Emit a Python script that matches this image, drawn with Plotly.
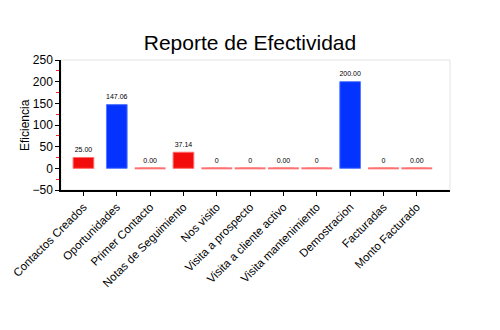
import plotly.graph_objects as go

categories = ["Contactos Creados", "Oportunidades", "Primer Contacto", "Notas de Seguimiento",
              "Nos visito", "Visita a prospecto", "Visita a cliente activo", "Visita mantenimiento",
              "Demostracion", "Facturadas", "Monto Facturado"]
values = [25.00, 147.06, 0.00, 37.14, 0, 0, 0.00, 0, 200.00, 0, 0.00]
value_labels = ["25.00", "147.06", "0.00", "37.14", "0", "0", "0.00", "0", "200.00", "0", "0.00"]
bar_colors = ["#f20c0c", "#0433ff", "#f20c0c", "#f20c0c", "#f20c0c", "#f20c0c",
              "#f20c0c", "#f20c0c", "#0433ff", "#f20c0c", "#f20c0c"]
line_colors = ["#ff6b6b", "#5577ff", "#ff6b6b", "#ff6b6b", "#ff6b6b", "#ff6b6b",
               "#ff6b6b", "#ff6b6b", "#5577ff", "#ff6b6b", "#ff6b6b"]

FONT = "Liberation Sans, Arial, sans-serif"

fig = go.Figure()
fig.add_trace(go.Bar(
    x=categories, y=values, width=0.62,
    marker=dict(color=bar_colors, line=dict(color=line_colors, width=1)),
    hoverinfo="skip",
))
zero_x = [c for c, v in zip(categories, values) if v == 0]
zero_y = [v for v in values if v == 0]
fig.add_trace(go.Scatter(
    x=zero_x, y=zero_y, mode="markers",
    marker=dict(symbol="line-ew", size=22, line=dict(color="#ff7070", width=2)),
    hoverinfo="skip",
))
fig.add_trace(go.Scatter(
    x=categories, y=values, mode="markers+text", text=value_labels,
    marker=dict(size=4, color="rgba(0,0,0,0)"),
    textposition="top center", textfont=dict(family=FONT, size=7, color="#000"),
    hoverinfo="skip",
))

fig.update_layout(
    width=500, height=330,
    margin=dict(l=61, r=50, t=60, b=140),
    paper_bgcolor="white", plot_bgcolor="white",
    showlegend=False,
    font=dict(family=FONT, color="#000"),
    title=dict(text="Reporte de Efectividad", x=0.5, xanchor="center",
               y=1 - 43 / 330, yanchor="middle",
               font=dict(family=FONT, size=21, color="#000")),
    shapes=[dict(type="rect", xref="paper", yref="paper", x0=0, x1=1, y0=0, y1=1,
                 line=dict(color="#e4e4e4", width=1), layer="below")],
    annotations=[dict(text="Eficiencia", textangle=-90, xref="paper", yref="paper",
                      x=(25 - 61) / 389, y=0.5, xanchor="center", yanchor="middle",
                      showarrow=False, font=dict(family=FONT, size=12, color="#000"))],
)
fig.update_xaxes(
    type="category", tickangle=-45, showline=True, linecolor="#000", linewidth=1.5,
    ticks="outside", ticklen=4, tickcolor="#000", showgrid=False, automargin=False,
    tickfont=dict(family=FONT, size=11.5, color="#000"),
)
fig.update_yaxes(
    range=[-50, 250], dtick=50, tick0=0, showline=True, linecolor="#000", linewidth=1.5,
    ticks="outside", ticklen=4, tickcolor="#000", showgrid=False, zeroline=False,
    automargin=False,
    tickfont=dict(family=FONT, size=12, color="#000"),
    minor=dict(dtick=50, tick0=25, ticks="outside", ticklen=3, tickcolor="#ff2020"),
)

fig.write_html("out.html")
